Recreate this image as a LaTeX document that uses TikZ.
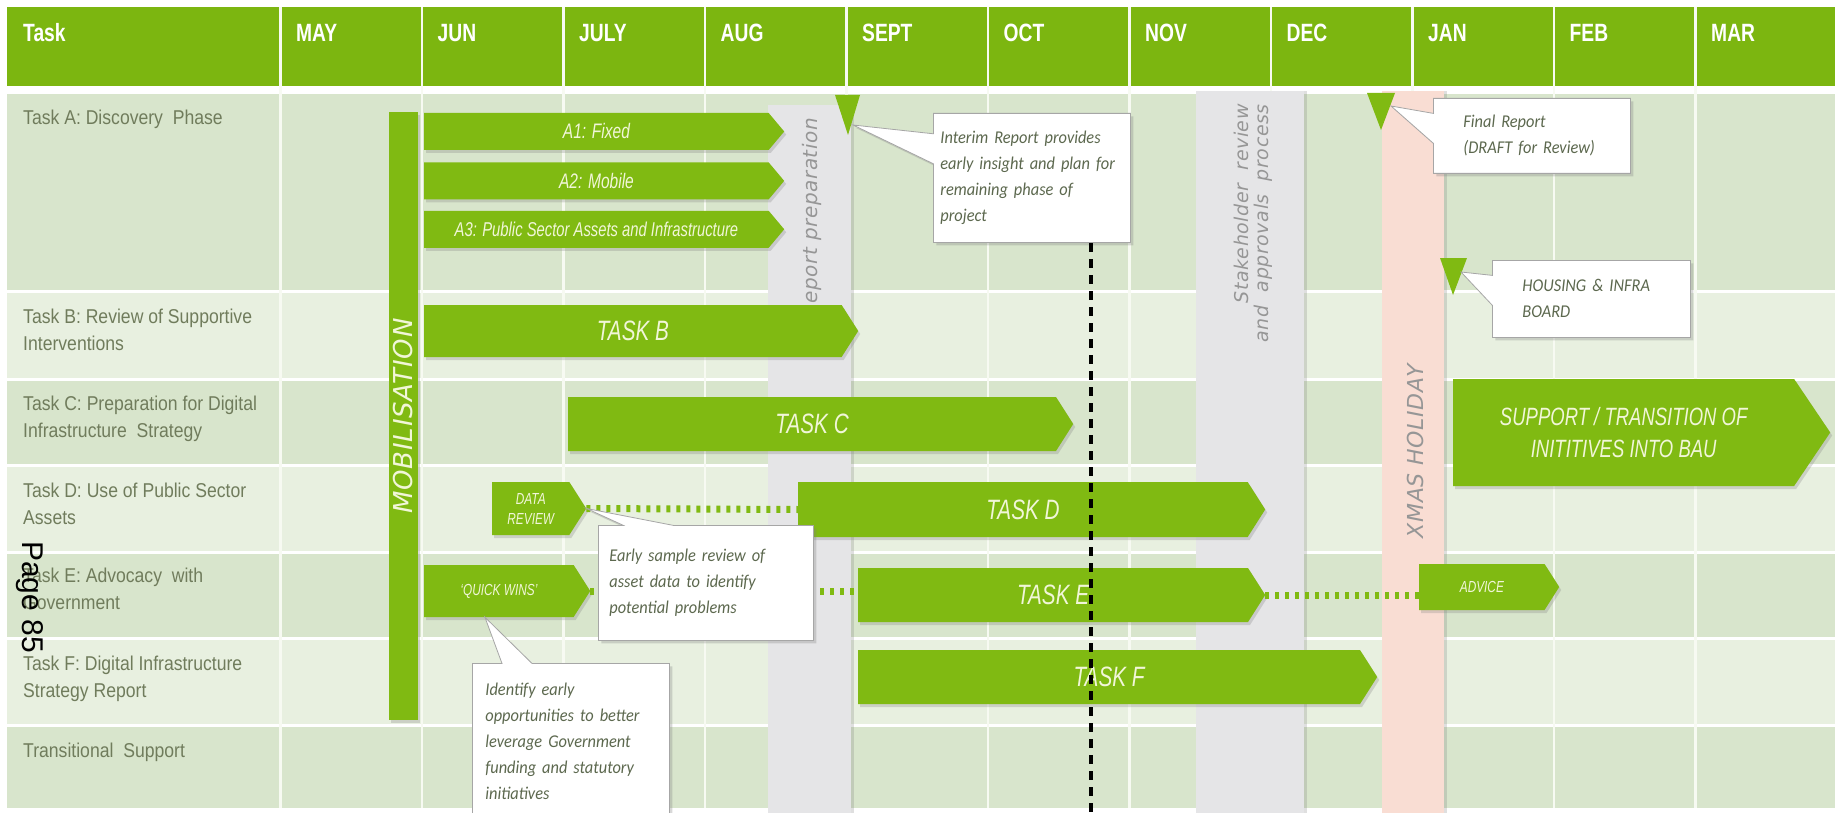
\documentclass[tikz,border=0pt]{standalone}
\usepackage{fontspec}
\setmainfont{Liberation Sans}
\newfontfamily\hdrfont[FakeStretch=0.77]{Liberation Sans}
\newfontfamily\lblfont[FakeStretch=0.88]{Liberation Sans}
\newfontfamily\barfont[FakeStretch=0.74]{Liberation Sans}
\newfontfamily\notefont[FakeStretch=0.91]{Carlito}
\newfontfamily\widefont[LetterSpace=3.0]{DejaVu Sans}
\usepackage{xcolor}
\usepackage{tikz}
\usetikzlibrary{positioning, shapes.symbols, shapes.callouts, shadows}

\definecolor{hdrgreen}{RGB}{124,182,16}
\definecolor{bargreen}{RGB}{128,186,18}
\definecolor{rowdark}{RGB}{216,229,204}
\definecolor{rowlight}{RGB}{232,240,224}
\definecolor{gridline}{RGB}{247,250,242}
\definecolor{lbltext}{RGB}{112,124,92}
\definecolor{notetext}{RGB}{92,104,78}
\definecolor{bandgrey}{RGB}{229,229,231}
\definecolor{bandpink}{RGB}{249,221,211}
\definecolor{bandtext}{RGB}{150,150,150}
\definecolor{bartext}{RGB}{241,246,216}

\begin{document}
\begin{tikzpicture}[x=1pt, y=-1pt,
    hdr/.style={anchor=west, inner sep=0, text=white,
      font=\hdrfont\bfseries\fontsize{25}{30}\selectfont},
    rowlbl/.style={anchor=north west, inner sep=0, align=left, text=lbltext,
      font=\lblfont\fontsize{20}{27}\selectfont},
    bar/.style={signal, signal to=east, signal pointer angle=115, anchor=west,
      fill=bargreen, inner sep=0, text=bartext, align=center,
      font=\barfont\itshape\fontsize{28}{32}\selectfont,
      drop shadow={shadow xshift=2pt, shadow yshift=-3pt, opacity=.28}},
    abar/.style={bar, minimum width=360, minimum height=37, signal pointer angle=100,
      font=\barfont\itshape\fontsize{21}{24}\selectfont},
    smallbar/.style={bar, font=\barfont\itshape\fontsize{16}{20}\selectfont},
    band/.style={anchor=north west, inner sep=0,
      drop shadow={shadow xshift=3pt, shadow yshift=0pt, opacity=.25}},
    bandlbl/.style={rotate=90, inner sep=0, text=bandtext,
      font=\widefont\itshape\fontsize{20}{20}\selectfont},
    note/.style={rectangle callout, anchor=north west, fill=white, draw=black!35,
      line width=.8, inner xsep=0, inner ysep=4, align=left, text=notetext,
      callout pointer width=30,
      font=\notefont\itshape\fontsize{18}{26}\selectfont,
      drop shadow={shadow xshift=3pt, shadow yshift=-3pt, opacity=.3}},
    milestone/.style={fill=bargreen},
    hatch/.style={draw=bargreen, line width=7pt, dash pattern=on 4pt off 6pt},
    nowline/.style={draw=black, line width=4.5pt, dash pattern=on 9pt off 7pt}
  ]
  \useasboundingbox (0,0) rectangle (1835,813);
  \clip (0,0) rectangle (1835,813);
  \fill[white] (0,0) rectangle (1835,813);

  % header and rows
  \fill[hdrgreen] (7,7) rectangle (1835,86);
  \foreach \rt/\rb/\rc in {94/290/rowdark, 293/378/rowlight, 381/464/rowdark,
      467/551/rowlight, 554/637/rowdark, 640/724/rowlight, 727/808/rowdark}
    \fill[\rc] (7,\rt) rectangle (1835,\rb);
  \foreach \i in {0,...,10}
    \draw[gridline, line width=2.5] ({280.5+141.5*\i},7) -- ({280.5+141.5*\i},808);

  \node[hdr] (hTask) at (23,33) {Task};
  \foreach \m [count=\i from 0] in {MAY,JUN,JULY,AUG,SEPT,OCT,NOV,DEC,JAN,FEB,MAR}
    \node[hdr] (h\i) at ({296+141.5*\i},33) {\m};

  \node[rowlbl] (lA) at (23,110) {Task A: Discovery\ \ Phase};
  \node[rowlbl] (lB) at (23,309) {Task B: Review of Supportive\\Interventions};
  \node[rowlbl] (lC) at (23,396) {Task C: Preparation for Digital\\Infrastructure\ \ Strategy};
  \node[rowlbl] (lD) at (23,483) {Task D: Use of Public Sector\\Assets};
  \node[rowlbl] (lE) at (23,568) {Task E: Advocacy\ \ with\\Government};
  \node[rowlbl] (lF) at (23,656) {Task F: Digital Infrastructure\\Strategy Report};
  \node[rowlbl] (lT) at (23,743) {Transitional\ \ Support};

  % review bands
  \node[band, fill=bandgrey, minimum width=83, minimum height=708] (bRep) at (768,105) {};
  \node[band, fill=bandgrey, minimum width=108, minimum height=722] (bStake) at (1196,91) {};
  \node[band, fill=bandpink, minimum width=62, minimum height=722] (bXmas) at (1382,91) {};
  \node[bandlbl] (tRep) at (812,218) {Report preparation};
  \node[bandlbl, anchor=east, align=right, font=\widefont\itshape\fontsize{19}{20}\selectfont]
    (tStake) at (1253,104) {Stakeholder\ \ review\\and\ \ approvals\ \ process};
  \node[bandlbl, font=\widefont\itshape\fontsize{22}{22}\selectfont] (tXmas) at (1415,451) {XMAS HOLIDAY};

  \node[rotate=90, fill=bargreen, inner sep=0, minimum width=608, minimum height=29,
    text=bartext, font=\widefont\itshape\fontsize{26}{26}\selectfont,
    drop shadow={shadow xshift=2pt, shadow yshift=-3pt, opacity=.28}] (mob) at (403.5,416) {MOBILISATION};

  % task bars
  \node[abar] (a1) at (424,131.5) {A1: Fixed};
  \node[abar, below=12pt of a1] (a2) {A2: Mobile};
  \node[abar, below=11pt of a2, font=\barfont\itshape\fontsize{20}{24}\selectfont] (a3)
    {A3: Public Sector Assets and Infrastructure};
  \node[bar, minimum width=434, minimum height=52] (tB) at (424,331) {TASK B};
  \node[bar, minimum width=505, minimum height=54] (tC) at (568,424) {TASK C};
  \node[smallbar, minimum width=94, minimum height=53] (drev) at (492,508.5) {DATA\\REVIEW};
  \node[bar, minimum width=467, minimum height=55] (tD) at (798,509.5) {TASK D};
  \node[smallbar, minimum width=166, minimum height=52] (qw) at (424,591) {‘QUICK WINS’};
  \node[bar, minimum width=407, minimum height=54] (tE) at (858,595) {TASK E};
  \node[smallbar, minimum width=140, minimum height=46] (adv) at (1419,587) {ADVICE};
  \node[bar, minimum width=519, minimum height=54] (tF) at (858,677) {TASK F};
  \node[bar, minimum width=377, minimum height=107, signal pointer angle=112,
    font=\barfont\itshape\fontsize{25}{32}\selectfont] (sup) at (1453,432.5)
    {SUPPORT / TRANSITION OF\\INITITIVES INTO BAU};

  \draw[hatch] (drev.east) -- (tD.west);
  \draw[hatch] (qw.east) -- (qw.east -| tE.west);
  \draw[hatch] (tE.east) -- (tE.east -| adv.west);

  % milestones and notes
  \fill[milestone] (835,95) -- (860,95) -- (848,135) -- cycle;
  \fill[milestone] (1367,93) -- (1395,93) -- (1381,130) -- cycle;
  \fill[milestone] (1440,258) -- (1467,258) -- (1453,295) -- cycle;
  \coordinate (msI) at (853,125);
  \coordinate (msF) at (1391,106);
  \coordinate (msH) at (1461,272);

  \node[note, minimum width=197, minimum height=129, text width=183,
    callout absolute pointer={(msI)}] (nI) at (933,113)
    {Interim Report provides\\early insight and plan for\\remaining phase of\\project};
  \node[note, minimum width=197, minimum height=75, text width=137,
    callout absolute pointer={(msF)}] (nF) at (1433,98)
    {Final Report\\(DRAFT for Review)};
  \node[note, minimum width=198, minimum height=77, text width=138,
    callout absolute pointer={(msH)}] (nH) at (1492,260)
    {HOUSING \& INFRA\\BOARD};
  \node[note, minimum width=215, minimum height=115, text width=193, callout pointer width=50,
    callout absolute pointer={(drev.east)}] (nE) at (598,525)
    {Early sample review of\\asset data to identify\\potential problems};
  \node[note, minimum width=197, minimum height=156, text width=171,
    callout absolute pointer={([xshift=-14pt]qw.south)}] (nQ) at (472,663)
    {Identify early\\opportunities to better\\leverage Government\\funding and statutory\\initiatives};

  \coordinate (nowTop) at (1091,243);
  \coordinate (nowBot) at (1091,813);
  \draw[nowline] (nowTop) -- (nowBot);

  \node[rotate=-90, inner sep=0, font=\fontsize{30}{34}\selectfont] (pg) at (30,597) {Page 85};
\end{tikzpicture}
\end{document}
